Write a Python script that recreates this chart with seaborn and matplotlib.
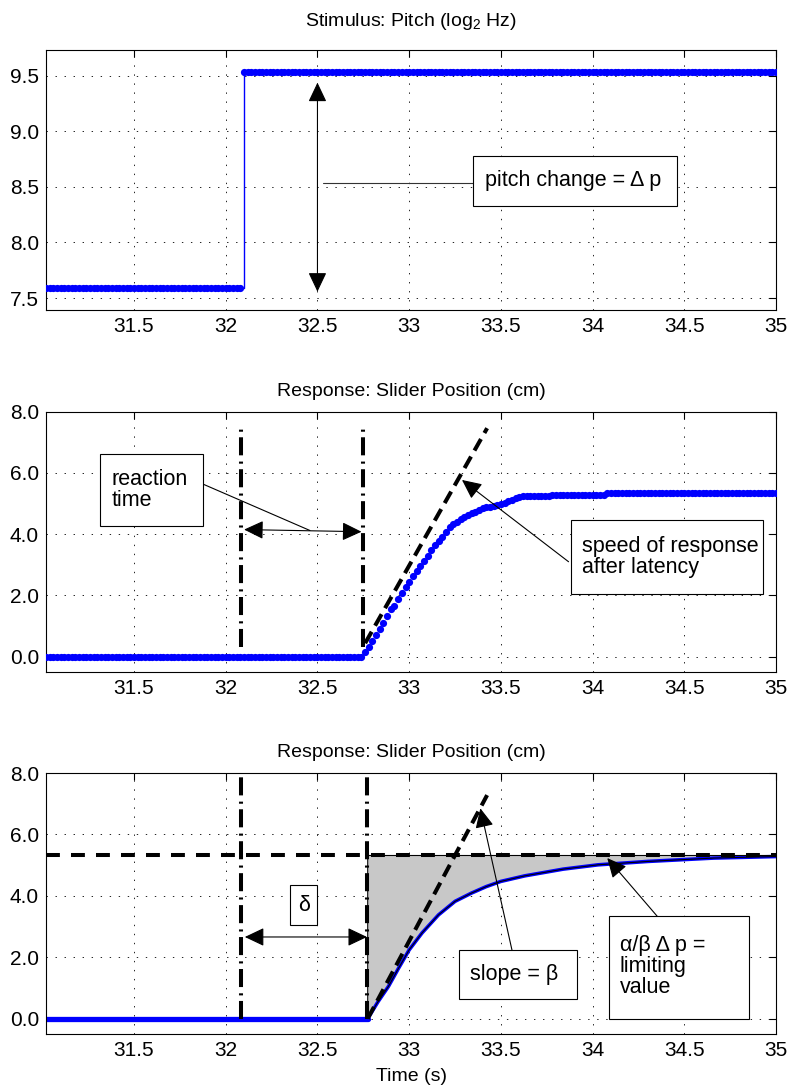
import numpy as np
import pandas as pd
import matplotlib
matplotlib.use("Agg")
import matplotlib.pyplot as plt
import seaborn as sns
from matplotlib.patches import Rectangle
from matplotlib.ticker import FixedLocator, FuncFormatter

# ---------------- data ----------------
sample_step = 0.02
x_limits = [31.02, 35.0]
x_ticks = [31.5, 32, 32.5, 33, 33.5, 34, 34.5, 35]

# Stimulus (pitch, log2 Hz)
pitch_low = 7.59
pitch_high = 9.54
stim_time = 32.085
pitch_yticks = [7.5, 8.0, 8.5, 9.0, 9.5]

# Measured slider response (cm), rising part sampled every 0.02 s
resp_rise_t = [32.74, 32.76, 32.78, 32.80, 32.82, 32.84, 32.86, 32.88, 32.90, 32.92,
               32.94, 32.96, 32.98, 33.00, 33.02, 33.04, 33.06, 33.08, 33.10, 33.12,
               33.14, 33.16, 33.18, 33.20, 33.22, 33.24, 33.26, 33.28, 33.30, 33.32,
               33.34, 33.36, 33.38, 33.40, 33.42, 33.44, 33.46, 33.48, 33.50, 33.52,
               33.54, 33.56, 33.58, 33.60, 33.62, 33.64]
resp_rise_y = [0.00, 0.15, 0.33, 0.52, 0.72, 0.90, 1.10, 1.34, 1.55, 1.67,
               1.88, 2.07, 2.26, 2.45, 2.63, 2.80, 2.97, 3.12, 3.28, 3.47,
               3.65, 3.78, 3.92, 4.08, 4.22, 4.32, 4.40, 4.49, 4.56, 4.62,
               4.68, 4.74, 4.79, 4.85, 4.88, 4.90, 4.92, 4.95, 4.98, 5.03,
               5.07, 5.13, 5.18, 5.22, 5.24, 5.25]
resp_plateau_start = [33.66, 33.78, 34.08]
resp_plateau_level = [5.26, 5.29, 5.35]
resp_yticks = [0.0, 2.0, 4.0, 6.0, 8.0]

# Model response (cm)
model_t = [31.02, 32.774, 32.83, 32.887, 32.94, 33.0, 33.07, 33.16, 33.25, 33.34,
           33.42, 33.5, 33.63, 33.84, 34.03, 34.3, 34.66, 35.0]
model_y = [0.0, 0.0, 0.55, 1.05, 1.62, 2.24, 2.79, 3.38, 3.82, 4.09,
           4.30, 4.47, 4.65, 4.87, 5.01, 5.12, 5.23, 5.28]
limit_value = 5.33

# Slope (tangent) lines and reaction times
slope_mid_x = [32.76, 33.425]
slope_mid_y = [0.44, 7.46]
slope_bot_x = [32.774, 33.425]
slope_bot_y = [0.0, 7.28]
react_mid = 32.747
react_bot = 32.772

# ---------------- build series ----------------
sample_t = np.round(np.arange(x_limits[0], x_limits[1] + 1e-6, sample_step), 2)
pitch_vals = np.where(sample_t < stim_time, pitch_low, pitch_high)
stim_df = pd.DataFrame({"t": sample_t, "pitch": pitch_vals})

resp_vals = np.zeros_like(sample_t)
for tt, yy in zip(resp_rise_t, resp_rise_y):
    resp_vals[np.isclose(sample_t, tt)] = yy
for ts, lv in zip(resp_plateau_start, resp_plateau_level):
    resp_vals[sample_t >= ts - 1e-9] = lv
resp_df = pd.DataFrame({"t": sample_t, "pos": resp_vals})
model_df = pd.DataFrame({"t": model_t, "pos": model_y})
flat_df = model_df.iloc[:2]
curve_df = model_df.iloc[1:]

# ---------------- style ----------------
sns.set_theme(style="white")
plt.rcParams.update({
    "font.family": ["Liberation Sans", "DejaVu Sans"],
    "mathtext.fontset": "custom",
    "mathtext.rm": "Liberation Sans",
    "lines.scale_dashes": False,
    "axes.edgecolor": "black",
    "axes.labelcolor": "black",
    "axes.titlecolor": "black",
    "axes.linewidth": 0.8,
    "xtick.color": "black",
    "ytick.color": "black",
    "xtick.labelcolor": "black",
    "ytick.labelcolor": "black",
    "text.color": "black",
})

BLUE = "#0000ff"
TICK_FS = 15
TITLE_FS = 14
BOX_FS = 15.5
DASHDOT = (0, (13, 4, 1.5, 4.5))
DASHED = (0, (9.5, 5))
HDASH = (0, (10, 8))

fig = plt.figure(figsize=(7.88, 10.92), dpi=100)
L, W = 0.05838, 0.9264
ax1 = fig.add_axes([L, 0.71612, W, 0.2381])
ax2 = fig.add_axes([L, 0.38462, W, 0.2384])
ax3 = fig.add_axes([L, 0.05311, W, 0.2390])


def style_axes(ax, yticks, ylim, title, pad):
    ax.set_xlim(x_limits)
    ax.set_ylim(ylim)
    ax.xaxis.set_major_locator(FixedLocator(x_ticks))
    ax.xaxis.set_major_formatter(FuncFormatter(lambda v, p: f"{v:g}"))
    ax.yaxis.set_major_locator(FixedLocator(yticks))
    ax.yaxis.set_major_formatter(FuncFormatter(lambda v, p: f"{v:.1f}"))
    ax.tick_params(direction="in", length=5, width=0.8, top=True, right=True,
                   labelsize=TICK_FS, pad=5, colors="black")
    ax.grid(True, color="black", linestyle=(0, (1, 5.5)), linewidth=0.6)
    ax.set_axisbelow(True)
    ax.set_title(title, fontsize=TITLE_FS, pad=pad, color="black")
    ax.set_xlabel("")
    ax.set_ylabel("")
    for s in ax.spines.values():
        s.set_visible(True)
        s.set_color("black")
        s.set_linewidth(0.8)


def box(ax, x0, x1, y0, y1):
    ax.add_patch(Rectangle((x0, y0), x1 - x0, y1 - y0, facecolor="white",
                           edgecolor="black", linewidth=0.8, zorder=6))


def arrow(ax, tip, tail, style="-|>"):
    ax.annotate("", xy=tip, xytext=tail, zorder=7,
                arrowprops=dict(arrowstyle=style + ",head_length=0.8,head_width=0.38",
                                color="black", lw=0.8, mutation_scale=15,
                                shrinkA=0, shrinkB=0))

# ---------------- panel 1: stimulus ----------------
sns.lineplot(data=stim_df, x="t", y="pitch", ax=ax1, estimator=None, sort=True,
             color=BLUE, linewidth=1.0, drawstyle="steps-post", marker="o",
             markersize=5.2, markeredgewidth=0, legend=False, zorder=3)
style_axes(ax1, pitch_yticks, (7.392, 9.734), "Stimulus: Pitch (log$_\\mathregular{2}$ Hz)", 17)
arrow(ax1, (32.5, 7.557), (32.5, 9.44), "<|-|>")
ax1.plot([32.53, 33.35], [8.533, 8.533], color="#333333", lw=0.8, zorder=5)
box(ax1, 33.350, 34.458, 8.329, 8.779)
ax1.text(33.415, 8.554, "pitch change = Δ p", fontsize=BOX_FS, ha="left",
         va="center", zorder=8)

# ---------------- panel 2: measured response ----------------
sns.scatterplot(data=resp_df, x="t", y="pos", ax=ax2, color=BLUE, s=27,
                linewidth=0, legend=False, zorder=3)
style_axes(ax2, resp_yticks, (-0.5, 8.0), "Response: Slider Position (cm)", 11.5)
for xv in (stim_time, react_mid):
    ax2.plot([xv, xv], [0.3, 7.6], color="black", lw=2.9, linestyle=DASHDOT, zorder=4)
ax2.plot(slope_mid_x, slope_mid_y, color="black", lw=2.9, linestyle=DASHED, zorder=4)
arrow(ax2, (32.10, 4.15), (32.74, 4.08), "<|-|>")
ax2.plot([31.874, 32.459], [5.64, 4.12], color="black", lw=0.8, zorder=5)
box(ax2, 31.315, 31.874, 4.281, 6.624)
ax2.text(31.379, 5.45, "reaction\ntime", fontsize=BOX_FS, ha="left", va="center",
         linespacing=1.0, zorder=8)
arrow(ax2, (33.288, 5.77), (33.869, 3.10))
box(ax2, 33.880, 34.931, 2.039, 4.467)
ax2.text(33.940, 3.26, "speed of response\nafter latency", fontsize=BOX_FS,
         ha="left", va="center", linespacing=1.0, zorder=8)

# ---------------- panel 3: model response ----------------
curve_t = curve_df["t"].to_numpy()
curve_y = curve_df["pos"].to_numpy()
ax3.fill_between(curve_t, curve_y, limit_value, color="#c8c8c8", linewidth=0, zorder=1)
sns.lineplot(data=flat_df, x="t", y="pos", ax=ax3, estimator=None, sort=False,
             color=BLUE, linewidth=3.8, legend=False, zorder=2.5)
sns.lineplot(data=curve_df, x="t", y="pos", ax=ax3, estimator=None, sort=False,
             color=BLUE, linewidth=2.6, legend=False, zorder=2.5)
ax3.plot(np.r_[curve_t[0], curve_t], np.r_[limit_value, curve_y], color="black",
         lw=0.8, zorder=3)
ax3.plot([curve_t[0], x_limits[1]], [limit_value, limit_value], color="black",
         lw=0.8, zorder=3)
style_axes(ax3, resp_yticks, (-0.5, 8.0), "Response: Slider Position (cm)", 11.5)
ax3.set_xlabel("Time (s)", fontsize=TITLE_FS, labelpad=6, color="black")
ax3.plot(x_limits, [limit_value, limit_value], color="black", lw=2.9,
         linestyle=HDASH, zorder=4)
for xv in (stim_time, react_bot):
    ax3.plot([xv, xv], [0.0, 8.0], color="black", lw=2.9, linestyle=DASHDOT, zorder=4)
ax3.plot(slope_bot_x, slope_bot_y, color="black", lw=2.9, linestyle=DASHED, zorder=4)
arrow(ax3, (32.104, 2.66), (32.77, 2.66), "<|-|>")
box(ax3, 32.353, 32.499, 3.034, 4.358)
ax3.text(32.426, 3.70, "δ", fontsize=BOX_FS, ha="center", va="center", zorder=8)
arrow(ax3, (33.388, 6.85), (33.561, 2.22))
box(ax3, 33.269, 33.916, 0.641, 2.221)
ax3.text(33.33, 1.43, "slope = β", fontsize=BOX_FS, ha="left", va="center", zorder=8)
arrow(ax3, (34.08, 5.23), (34.353, 3.33))
box(ax3, 34.089, 34.851, -0.01, 3.327)
ax3.text(34.149, 1.70, "α/β Δ p =\nlimiting\nvalue", fontsize=BOX_FS, ha="left",
         va="center", linespacing=1.0, zorder=8)

fig.savefig("out.png", dpi=100)
